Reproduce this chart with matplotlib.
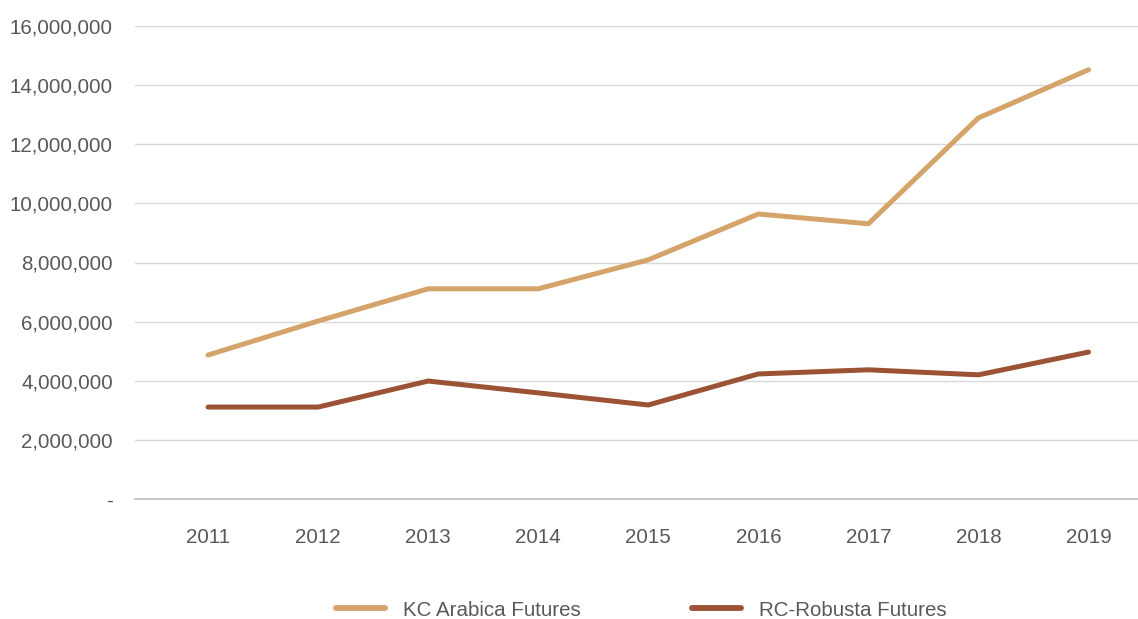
import matplotlib.pyplot as plt
from matplotlib.ticker import FuncFormatter

years = ["2011", "2012", "2013", "2014", "2015", "2016", "2017", "2018", "2019"]
arabica = [4870000, 6020000, 7110000, 7110000, 8090000, 9640000, 9310000, 12890000, 14520000]
robusta = [3110000, 3110000, 3990000, 3590000, 3180000, 4230000, 4370000, 4200000, 4970000]

plt.rcParams["font.family"] = ["Liberation Sans", "DejaVu Sans"]
text_color = "#595959"
fs = 14.8

fig = plt.figure(figsize=(11.38, 6.19), dpi=100)
ax = fig.add_axes([135 / 1138, 1 - 499 / 619, 1 - 135 / 1138, 473 / 619])

x = range(len(years))
ax.plot(x, arabica, color="#D4A46A", lw=3.6, solid_capstyle="round",
        solid_joinstyle="round", label="KC Arabica Futures", zorder=3)
ax.plot(x, robusta, color="#9B5235", lw=3.6, solid_capstyle="round",
        solid_joinstyle="round", label="RC-Robusta Futures", zorder=3)

ax.set_ylim(0, 16000000)
ax.set_yticks(range(0, 16000001, 2000000))
ax.yaxis.set_major_formatter(FuncFormatter(lambda v, p: "-" if v == 0 else f"{int(v):,}"))
ax.set_xlim(-0.664, 8.45)
ax.set_xticks(list(x))
ax.set_xticklabels(years)

ax.grid(axis="y", color="#d9d9d9", lw=1)
ax.set_axisbelow(True)
for s in ["top", "right", "left"]:
    ax.spines[s].set_visible(False)
ax.spines["bottom"].set_color("#bfbfbf")
ax.spines["bottom"].set_linewidth(1.2)
ax.tick_params(axis="both", length=0, labelsize=fs, colors=text_color)
ax.tick_params(axis="y", pad=16)
ax.tick_params(axis="x", pad=21)

leg = fig.legend(loc="center", bbox_to_anchor=(0.5637, 1 - 610 / 619), ncol=2,
                 frameon=False, fontsize=fs, handlelength=2.4, handletextpad=0.88,
                 columnspacing=5.4)
for line in leg.get_lines():
    line.set_linewidth(4.2)
for t in leg.get_texts():
    t.set_color(text_color)

fig.savefig("out.png", dpi=100)
